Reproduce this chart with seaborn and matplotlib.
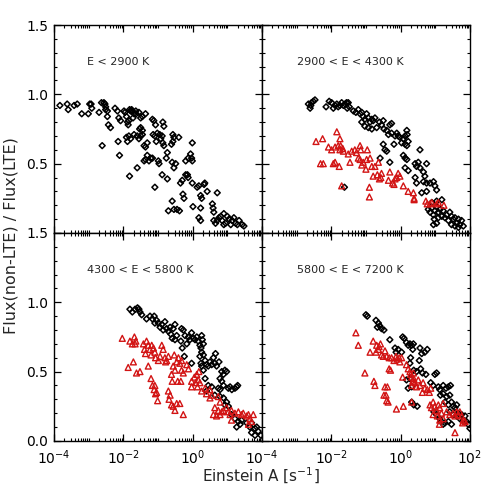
import numpy as np
import pandas as pd
import matplotlib
matplotlib.use("Agg")
import matplotlib.pyplot as plt
import seaborn as sns
from matplotlib.ticker import LogLocator, MultipleLocator, NullFormatter

# values: (log10 Einstein A, flux ratio)
panel_titles = ["E < 2900 K", "2900 < E < 4300 K", "4300 < E < 5800 K", "5800 < E < 7200 K"]

p1_black = [(-3.83,0.92),(-3.62,0.93),(-3.59,0.89),(-3.42,0.92),(-3.33,0.93),(-3.20,0.86),(-3.01,0.86),(-2.97,0.93),
            (-2.93,0.93),(-2.91,0.90),(-2.70,0.87),(-2.63,0.94),(-2.56,0.94),(-2.53,0.93),(-2.51,0.91),(-2.51,0.89),
            (-2.46,0.88),(-2.46,0.84),(-2.43,0.78),(-2.37,0.76),(-2.61,0.63),(-2.24,0.90),(-2.17,0.88),(-2.13,0.83),
            (-2.08,0.81),(-2.15,0.66),(-2.11,0.56),(-1.98,0.88),(-1.95,0.87),(-1.91,0.84),(-1.88,0.80),(-1.86,0.78),
            (-1.84,0.81),(-1.82,0.89),(-1.79,0.88),(-1.76,0.89),(-1.74,0.88),(-1.72,0.83),(-1.69,0.86),(-1.64,0.88),
            (-1.63,0.86),(-1.55,0.87),(-1.50,0.83),(-1.45,0.84),(-1.36,0.86),(-1.91,0.69),(-1.88,0.66),(-1.84,0.70),
            (-1.79,0.68),(-1.69,0.71),(-1.60,0.70),(-1.55,0.68),(-1.50,0.70),(-1.45,0.71),(-1.82,0.41),(-1.60,0.47),
            (-1.53,0.75),(-1.50,0.76),(-1.45,0.74),(-1.40,0.52),(-1.36,0.53),(-1.31,0.56),(-1.26,0.52),(-1.21,0.54),
            (-1.16,0.54),(-1.40,0.63),(-1.36,0.62),(-1.31,0.65),(-1.16,0.82),(-1.12,0.81),(-1.07,0.78),(-1.14,0.71),
            (-1.09,0.70),(-1.05,0.66),(-1.09,0.33),(-0.95,0.71),(-0.92,0.68),(-0.88,0.70),(-0.86,0.65),(-0.83,0.63),
            (-1.02,0.72),(-0.99,0.52),(-0.97,0.50),(-0.86,0.80),(-0.83,0.77),(-0.73,0.58),(-0.76,0.54),(-0.88,0.42),
            (-0.73,0.39),(-0.61,0.64),(-0.57,0.66),(-0.59,0.51),(-0.54,0.47),(-0.49,0.50),(-0.57,0.71),(-0.54,0.69),
            (-0.40,0.69),(-0.59,0.23),(-0.54,0.17),(-0.70,0.16),(-0.45,0.17),(-0.38,0.16),(-0.35,0.36),(-0.30,0.38),
            (-0.28,0.28),(-0.25,0.25),(-0.20,0.42),(-0.15,0.42),(-0.13,0.40),(-0.20,0.52),(-0.13,0.54),(-0.06,0.57),
            (-0.03,0.54),(-0.01,0.52),(-0.01,0.65),(-0.01,0.36),(0.01,0.19),(0.13,0.33),(0.18,0.34),(0.23,0.27),
            (0.26,0.25),(0.23,0.18),(0.33,0.35),(0.35,0.36),(0.18,0.11),(0.23,0.09),(0.42,0.30),(0.57,0.21),
            (0.59,0.18),(0.71,0.29),(0.61,0.15),(0.61,0.09),(0.66,0.07),(0.71,0.09),(0.76,0.11),(0.81,0.12),
            (0.85,0.09),(0.90,0.14),(0.90,0.06),(0.95,0.07),(1.00,0.12),(1.05,0.10),(1.10,0.06),(1.14,0.09),
            (1.19,0.11),(1.24,0.07),(1.29,0.06),(1.34,0.09),(1.43,0.06),(1.48,0.05)]

p2_black = [(-2.66,0.93),(-2.59,0.92),(-2.57,0.94),(-2.52,0.95),(-2.47,0.96),(-2.61,0.90),(-2.15,0.91),(-2.06,0.95),
            (-1.99,0.94),(-1.94,0.90),(-1.89,0.92),(-1.84,0.93),(-1.80,0.91),(-1.75,0.92),(-1.70,0.94),(-1.65,0.92),
            (-1.60,0.93),(-1.56,0.94),(-1.51,0.94),(-1.54,0.90),(-1.48,0.91),(-1.36,0.88),(-1.29,0.87),(-1.22,0.89),
            (-1.17,0.86),(-1.12,0.87),(-1.08,0.84),(-1.03,0.82),(-0.98,0.86),(-0.93,0.83),(-0.88,0.80),(-0.83,0.82),
            (-0.79,0.81),(-0.74,0.83),(-1.12,0.80),(-1.03,0.77),(-0.93,0.76),(-0.83,0.75),(-0.69,0.76),(-0.61,0.80),
            (-0.55,0.78),(-0.50,0.81),(-0.48,0.75),(-0.40,0.74),(-0.31,0.78),(-0.26,0.79),(-0.35,0.71),(-0.26,0.72),
            (-0.16,0.70),(-0.11,0.72),(-0.07,0.70),(-0.02,0.69),(0.08,0.68),(0.13,0.70),(0.18,0.74),(0.19,0.71),
            (0.22,0.66),(0.13,0.64),(0.18,0.63),(-0.50,0.64),(-0.45,0.60),(-0.40,0.59),(-0.19,0.64),(0.03,0.65),
            (0.56,0.60),(-0.59,0.54),(-0.31,0.51),(0.08,0.56),(0.13,0.54),(0.18,0.53),(0.13,0.47),(0.22,0.45),
            (0.42,0.50),(0.46,0.48),(0.51,0.51),(0.56,0.47),(0.75,0.50),(0.66,0.44),(0.70,0.41),(0.42,0.40),
            (0.46,0.36),(0.66,0.37),(0.75,0.36),(0.85,0.36),(0.95,0.37),(0.99,0.34),(1.04,0.31),(0.61,0.29),
            (0.75,0.30),(0.90,0.22),(1.04,0.23),(1.19,0.24),(0.80,0.17),(0.85,0.15),(0.90,0.18),(0.95,0.13),
            (0.99,0.16),(1.04,0.19),(1.09,0.15),(1.14,0.17),(1.19,0.12),(1.23,0.16),(0.97,0.10),(1.04,0.07),
            (1.09,0.11),(0.95,0.06),(1.28,0.11),(1.33,0.13),(1.42,0.15),(1.47,0.12),(1.52,0.10),(1.57,0.11),
            (1.62,0.07),(1.67,0.10),(1.71,0.06),(1.76,0.09),(1.81,0.05),(1.38,0.09),(1.47,0.06),(1.57,0.05),
            (1.67,0.04),(-1.62,0.33)]

p2_red = [(-2.44,0.66),(-2.25,0.68),(-1.84,0.73),(-1.75,0.68),(-1.80,0.63),(-1.73,0.63),(-1.67,0.61),(-2.08,0.62),
          (-1.99,0.60),(-1.89,0.62),(-1.75,0.60),(-1.65,0.59),(-1.51,0.57),(-1.41,0.59),(-1.32,0.60),(-1.17,0.63),
          (-1.15,0.60),(-0.96,0.60),(-2.31,0.50),(-2.23,0.50),(-1.94,0.50),(-1.89,0.51),(-1.77,0.48),(-1.46,0.51),
          (-1.27,0.58),(-1.22,0.54),(-1.17,0.53),(-1.12,0.49),(-1.08,0.51),(-0.98,0.53),(-0.88,0.54),(-1.00,0.46),
          (-0.83,0.48),(-0.74,0.48),(-0.64,0.51),(-0.79,0.41),(-0.67,0.42),(-0.61,0.39),(-0.57,0.40),(-0.55,0.43),
          (-0.31,0.44),(-0.35,0.38),(-0.23,0.36),(-0.16,0.39),(-0.11,0.40),(-0.07,0.43),(-0.02,0.41),(-0.19,0.35),
          (0.08,0.34),(0.22,0.30),(0.37,0.29),(0.39,0.25),(0.39,0.24),(-1.70,0.34),(-0.90,0.33),(-0.90,0.26),
          (0.73,0.23),(0.77,0.21),(0.85,0.21),(1.04,0.21),(1.09,0.22),(1.25,0.20),(0.90,0.22)]

p3_black = [(-1.81,0.95),(-1.74,0.93),(-1.66,0.95),(-1.59,0.96),(-1.55,0.95),(-1.52,0.93),(-1.47,0.91),(-1.33,0.88),
            (-1.23,0.90),(-1.16,0.88),(-1.11,0.90),(-1.04,0.87),(-1.09,0.85),(-0.99,0.85),(-0.94,0.82),(-0.89,0.84),
            (-0.80,0.86),(-0.85,0.80),(-0.75,0.81),(-0.70,0.79),(-0.65,0.82),(-0.63,0.77),(-0.56,0.81),(-0.51,0.84),
            (-0.46,0.76),(-0.59,0.74),(-0.51,0.73),(-0.32,0.81),(-0.27,0.80),(-0.34,0.72),(-0.30,0.67),(-0.22,0.76),
            (-0.12,0.75),(-0.08,0.73),(-0.17,0.70),(-0.03,0.78),(0.02,0.74),(0.07,0.73),(0.12,0.75),(0.16,0.72),
            (0.21,0.69),(0.26,0.76),(0.28,0.73),(0.31,0.70),(0.24,0.67),(0.26,0.64),(0.31,0.62),(0.21,0.61),
            (0.24,0.56),(0.26,0.54),(0.31,0.51),(0.36,0.58),(0.40,0.55),(-0.03,0.56),(-0.24,0.61),(0.45,0.54),
            (0.50,0.57),(0.55,0.55),(0.60,0.60),(0.64,0.56),(0.66,0.63),(0.69,0.54),(0.76,0.57),(0.84,0.50),
            (0.89,0.48),(0.93,0.51),(0.98,0.50),(0.79,0.45),(0.84,0.43),(0.89,0.40),(0.74,0.38),(0.79,0.37),
            (1.03,0.38),(1.08,0.39),(1.13,0.37),(1.22,0.38),(1.27,0.39),(1.30,0.40),(0.36,0.45),(0.45,0.40),
            (0.40,0.36),(0.55,0.39),(0.64,0.33),(0.79,0.32),(0.89,0.31),(0.98,0.28),(0.93,0.26),(1.03,0.25),
            (1.12,0.19),(1.22,0.16),(1.32,0.14),(1.37,0.12),(1.27,0.10),(1.41,0.15),(1.56,0.13),(1.65,0.10),
            (1.70,0.13),(1.80,0.09),(1.85,0.10),(1.89,0.07),(1.80,0.04),(1.70,0.06),(1.97,0.04)]

p3_red = [(-2.03,0.74),(-1.81,0.72),(-1.74,0.70),(-1.68,0.75),(-1.64,0.72),(-1.66,0.70),(-1.42,0.70),(-1.33,0.72),
          (-1.28,0.69),(-1.39,0.66),(-1.36,0.63),(-1.23,0.66),(-1.18,0.69),(-1.20,0.62),(-1.13,0.67),(-1.09,0.64),
          (-1.07,0.60),(-0.99,0.58),(-0.94,0.61),(-0.89,0.69),(-0.85,0.66),(-0.80,0.60),(-0.75,0.58),(-0.70,0.61),
          (-0.78,0.57),(-0.53,0.62),(-0.46,0.57),(-0.41,0.60),(-0.37,0.56),(-0.32,0.58),(-0.56,0.54),(-0.51,0.51),
          (-0.32,0.51),(-0.27,0.49),(-0.17,0.55),(-0.12,0.52),(-0.61,0.48),(-0.59,0.43),(-0.43,0.43),(-0.34,0.43),
          (-1.86,0.53),(-1.71,0.57),(-1.62,0.49),(-1.52,0.50),(-1.28,0.54),(-1.20,0.45),(-1.16,0.40),(-1.09,0.40),
          (-1.11,0.37),(-1.04,0.35),(-1.07,0.34),(-1.01,0.29),(-0.70,0.36),(-0.65,0.33),(-0.68,0.30),(-0.61,0.26),
          (-0.56,0.25),(-0.51,0.22),(-0.46,0.27),(-0.37,0.27),(-0.27,0.19),(-0.03,0.43),(0.05,0.46),(0.09,0.42),
          (0.12,0.48),(0.14,0.39),(0.18,0.50),(0.16,0.44),(0.21,0.42),(-0.03,0.39),(0.26,0.36),(0.36,0.38),
          (0.40,0.34),(0.50,0.37),(0.55,0.33),(0.50,0.31),(0.74,0.32),(0.79,0.28),(0.64,0.24),(0.74,0.22),
          (0.84,0.21),(0.79,0.19),(0.89,0.22),(0.98,0.24),(1.03,0.21),(1.08,0.19),(1.12,0.22),(1.22,0.20),
          (1.32,0.21),(1.41,0.19),(1.46,0.20),(1.56,0.18),(1.61,0.19),(1.65,0.16),(1.70,0.14),(1.75,0.19),
          (1.61,0.12),(1.12,0.15),(0.60,0.19),(0.69,0.18)]

p4_black = [(-1.00,0.91),(-0.96,0.90),(-0.71,0.87),(-0.64,0.85),(-0.67,0.82),(-0.60,0.83),(-0.55,0.81),(-0.48,0.80),
            (-0.31,0.73),(0.06,0.75),(0.10,0.74),(0.17,0.71),(0.22,0.69),(0.27,0.70),(0.32,0.69),(0.37,0.70),
            (0.35,0.66),(-0.16,0.67),(-0.07,0.66),(-0.13,0.64),(0.03,0.64),(0.56,0.67),(0.61,0.63),(0.70,0.64),
            (0.77,0.66),(0.54,0.58),(0.29,0.60),(0.27,0.56),(0.38,0.51),(0.46,0.50),(0.58,0.52),(0.63,0.49),
            (0.73,0.48),(0.99,0.48),(1.04,0.49),(0.87,0.42),(0.94,0.40),(1.09,0.39),(1.13,0.37),(1.23,0.40),
            (1.31,0.38),(1.38,0.39),(1.44,0.40),(1.15,0.33),(1.23,0.34),(1.33,0.32),(1.42,0.33),(1.28,0.28),
            (1.38,0.26),(1.47,0.28),(1.52,0.25),(1.57,0.24),(1.62,0.26),(1.42,0.21),(1.52,0.19),(1.62,0.18),
            (1.66,0.20),(1.71,0.16),(1.76,0.19),(1.81,0.15),(1.86,0.18),(1.90,0.14),(1.95,0.12),(2.00,0.09),
            (1.38,0.14),(1.47,0.12),(0.32,0.28),(0.38,0.26),(0.48,0.25),(0.27,0.45),(0.32,0.39),(0.17,0.44),
            (0.22,0.38),(0.96,0.21),(1.04,0.19),(1.13,0.16),(1.18,0.14),(1.23,0.12),(1.28,0.13)]

p4_red = [(-1.29,0.78),(-1.22,0.69),(-1.03,0.49),(-0.88,0.64),(-0.79,0.72),(-0.69,0.69),(-0.71,0.64),(-0.64,0.66),
          (-0.62,0.68),(-0.58,0.70),(-0.55,0.62),(-0.50,0.61),(-0.45,0.65),(-0.40,0.61),(-0.33,0.60),(-0.26,0.60),
          (-0.19,0.58),(-0.13,0.61),(-0.10,0.59),(-0.04,0.60),(-0.02,0.57),(0.03,0.60),(-0.33,0.52),(-0.29,0.51),
          (0.06,0.46),(-0.77,0.43),(-0.74,0.40),(-0.45,0.39),(-0.38,0.39),(-0.48,0.33),(-0.42,0.33),(-0.40,0.29),
          (-0.36,0.28),(-0.12,0.23),(0.08,0.25),(0.17,0.55),(0.22,0.52),(0.27,0.50),(0.29,0.48),(0.32,0.46),
          (0.37,0.49),(0.38,0.45),(0.35,0.43),(0.41,0.42),(0.32,0.40),(0.46,0.39),(0.51,0.44),(0.56,0.40),
          (0.63,0.35),(0.70,0.38),(0.77,0.37),(0.83,0.35),(0.87,0.38),(0.65,0.42),(0.32,0.28),(0.85,0.26),
          (0.89,0.24),(0.94,0.28),(0.99,0.25),(1.04,0.22),(1.09,0.26),(1.13,0.24),(1.18,0.20),(1.23,0.27),
          (0.94,0.19),(1.06,0.18),(1.13,0.15),(1.12,0.12),(1.33,0.21),(1.42,0.19),(1.52,0.20),(1.57,0.18),
          (1.62,0.21),(1.66,0.19),(1.71,0.21),(1.76,0.18),(1.81,0.15),(1.86,0.14),(1.79,0.13),(1.57,0.06),
          (1.23,0.16)]

x_ticks = [1e-4, 1e-2, 1e0, 1e2]
x_labels = ["$10^{-4}$", "$10^{-2}$", "$10^{0}$", "$10^{2}$"]
y_ticks = [0.0, 0.5, 1.0, 1.5]
y_labels = ["0.0", "0.5", "1.0", "1.5"]

RED = "#d21414"

sns.set_theme(style="ticks")
plt.rcParams['font.family'] = ['DejaVu Sans']
plt.rcParams.update({
    'xtick.direction': 'in', 'ytick.direction': 'in',
    'xtick.top': True, 'ytick.right': True,
    'xtick.major.size': 5, 'ytick.major.size': 5,
    'xtick.minor.size': 2.5, 'ytick.minor.size': 2.5,
    'xtick.major.width': 0.9, 'ytick.major.width': 0.9,
    'xtick.minor.width': 0.8, 'ytick.minor.width': 0.8,
    'axes.linewidth': 1.0, 'axes.edgecolor': 'black',
    'xtick.color': 'black', 'ytick.color': 'black',
})


def to_frame(pairs):
    df = pd.DataFrame(pairs, columns=['logA', 'flux'])
    df['A'] = 10 ** df['logA']
    return df


fig, axes = plt.subplots(2, 2, figsize=(4.91, 4.91), dpi=100)
fig.subplots_adjust(left=0.110, right=0.957, top=0.949, bottom=0.102, wspace=0, hspace=0)

panels = [(p1_black, None), (p2_black, p2_red), (p3_black, p3_red), (p4_black, p4_red)]

for i, (ax, (blk, red), title) in enumerate(zip(axes.flat, panels, panel_titles)):
    sns.scatterplot(data=to_frame(blk), x='A', y='flux', ax=ax, marker='D', s=9,
                    facecolor='none', edgecolor='black', linewidth=1.1, legend=False)
    if red is not None:
        sns.scatterplot(data=to_frame(red), x='A', y='flux', ax=ax, marker='^', s=18,
                        facecolor='none', edgecolor=RED, linewidth=1.0, legend=False)
    ax.set_xscale('log')
    ax.set_xlim(1e-4, 1e2)
    ax.set_ylim(0, 1.5)
    ax.set_xlabel('')
    ax.set_ylabel('')
    ax.set_xticks(x_ticks)
    ax.xaxis.set_minor_locator(LogLocator(base=10, subs=np.arange(1, 10), numticks=40))
    ax.xaxis.set_minor_formatter(NullFormatter())
    ax.set_yticks(y_ticks)
    ax.yaxis.set_minor_locator(MultipleLocator(0.1))

    row, col = divmod(i, 2)
    if row == 1:
        ax.set_xticklabels(x_labels, fontsize=10)
        if col == 0:
            # the 10^2 of the left panel sits under the 10^-4 of the right one
            ax.get_xticklabels()[-1].set_visible(False)
    else:
        ax.tick_params(axis='x', labelbottom=False)
    if col == 0:
        ax.set_yticklabels(y_labels, fontsize=10)
        if row == 0:
            ax.get_yticklabels()[0].set_visible(False)
    else:
        ax.tick_params(axis='y', labelleft=False)
    ax.tick_params(axis='x', which='both', pad=5.5)
    ax.tick_params(axis='y', which='both', pad=4)
    ax.text(0.16 if col == 0 else 0.17, 0.82, title, transform=ax.transAxes,
            fontsize=8, va='center', ha='left')

fig.text(0.022, 0.52, "Flux(non-LTE) / Flux(LTE)", rotation=90, ha='center', va='center', fontsize=11.5)
fig.text(0.532, 0.030, "Einstein A [s$^{-1}$]", ha='center', va='center', fontsize=11)

fig.savefig('out.png', dpi=100)
